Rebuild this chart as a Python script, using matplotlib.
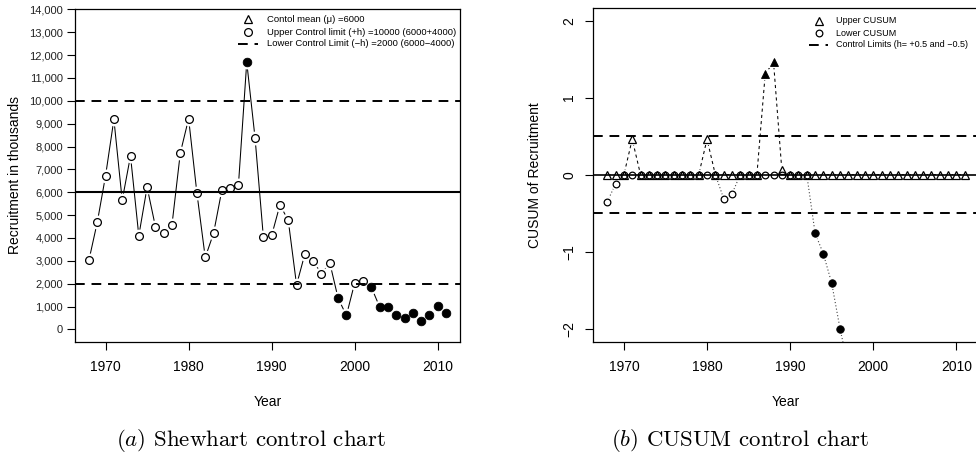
import matplotlib
matplotlib.use('Agg')
import matplotlib.pyplot as plt
from matplotlib.ticker import FixedLocator, FuncFormatter

plt.rcParams['font.family'] = ['Liberation Sans', 'DejaVu Sans']
plt.rcParams['mathtext.fontset'] = 'cm'

# ---------------- data ----------------
years = list(range(1968, 2012))
recruitment = [3040, 4690, 6730, 9190, 5650, 7590, 4100, 6220, 4500, 4240,
               4590, 7720, 9220, 5960, 3150, 4200, 6090, 6170, 6320, 11690,
               8380, 4050, 4110, 5450, 4770, 1950, 3300, 2980, 2440, 2920,
               1370, 610, 2030, 2140, 1850, 990, 990, 620, 520, 700,
               360, 640, 1020, 710]
out_of_control_years = [1987, 1998, 1999, 2002, 2003, 2004, 2005, 2006,
                        2007, 2008, 2009, 2010, 2011]
control_mean = 6000
upper_limit = 10000
lower_limit = 2000

upper_cusum = [0, 0, 0, 0.46, 0, 0, 0, 0, 0, 0, 0, 0, 0.46, 0, 0, 0, 0, 0, 0,
               1.31, 1.46, 0.06,
               0, 0, 0, 0, 0, 0, 0, 0, 0, 0, 0, 0, 0, 0, 0, 0, 0, 0, 0, 0, 0, 0]
lower_years = list(range(1968, 1998))
lower_cusum = [-0.35, -0.12, 0, 0, 0, 0, 0, 0, 0, 0, 0, 0, 0, 0, -0.31, -0.25,
               0, 0, 0, 0, 0, 0, 0, 0, 0, -0.76, -1.03, -1.41, -2.0, -2.5]
h = 0.5

xticks = [1970, 1980, 1990, 2000, 2010]
left_yticks = list(range(0, 14001, 1000))
right_yticks = [-2, -1, 0, 1, 2]

# ---------------- figure ----------------
fig = plt.figure(figsize=(9.76, 4.74), dpi=100)
axL = fig.add_axes([0.07654, 0.27848, 0.39508, 0.70316])
axR = fig.add_axes([0.60758, 0.27911, 0.39549, 0.70401])

for ax in (axL, axR):
    for s in ax.spines.values():
        s.set_linewidth(0.9)
    ax.set_xlim(1966.28, 2012.72)
    ax.xaxis.set_major_locator(FixedLocator(xticks))
    ax.tick_params(axis='x', length=6, width=0.8, labelsize=10, pad=7)
    ax.set_xlabel('Year', fontsize=10, va='center')
    ax.xaxis.set_label_coords(0.5, -0.18)


def type_b(ax, x, y, filled, marker, ms, halo, ls, lw, color):
    ax.plot(x, y, ls=ls, lw=lw, color=color, zorder=1)
    ax.plot(x, y, ls='none', marker=marker, ms=halo, mfc='white',
            mec='white', mew=0, zorder=2)
    xo = [a for a, f in zip(x, filled) if not f]
    yo = [b for b, f in zip(y, filled) if not f]
    xf = [a for a, f in zip(x, filled) if f]
    yf = [b for b, f in zip(y, filled) if f]
    ax.plot(xo, yo, ls='none', marker=marker, ms=ms, mfc='none', mec='black',
            mew=0.9, zorder=4)
    ax.plot(xf, yf, ls='none', marker=marker, ms=ms + 0.6, mfc='black',
            mec='black', mew=0.6, zorder=4)


# ---- (a) Shewhart ----
filledL = [y in out_of_control_years for y in years]
type_b(axL, years, recruitment, filledL, 'o', 5.6, 10, '-', 0.75, 'black')
axL.axhline(control_mean, color='black', lw=1.5, zorder=3)
axL.axhline(upper_limit, color='black', lw=1.4, ls=(0, (5, 3.5)), zorder=3)
axL.axhline(lower_limit, color='black', lw=1.4, ls=(0, (5, 3.5)), zorder=3)
axL.set_ylim(-550, 14030)
axL.yaxis.set_major_locator(FixedLocator(left_yticks))
axL.yaxis.set_major_formatter(FuncFormatter(lambda v, p: f'{int(v):,}'))
axL.tick_params(axis='y', length=6, width=0.8, labelsize=8, pad=2.5,
                labelcolor='#222222')
axL.set_ylabel('Recruitment in thousands', fontsize=10, va='center')
axL.yaxis.set_label_coords(-0.155, 0.5)

legL = [('^', 'Contol mean (\u03bc) =6000', 0.968),
        ('o', 'Upper Control limit (+h) =10000 (6000+4000)', 0.929),
        ('--', 'Lower Control Limit (\u2212h) =2000 (6000\u22124000)', 0.895)]
for mk, lab, yy in legL:
    if mk == '--':
        axL.plot([0.424, 0.476], [yy, yy], transform=axL.transAxes,
                 color='black', lw=1.4, ls=(0, (5, 3.5)), clip_on=False)
    else:
        axL.plot([0.450], [yy], transform=axL.transAxes, marker=mk, ms=5.6,
                 mfc='none', mec='black', mew=0.9, ls='none')
    axL.text(0.499, yy, lab, transform=axL.transAxes, fontsize=6.8,
             va='center', ha='left')

# ---- (b) CUSUM ----
filledU = [v > h for v in upper_cusum]
filledLo = [v < -h for v in lower_cusum]
type_b(axR, years, upper_cusum, filledU, '^', 5.2, 8.5, (0, (3, 3)), 0.75,
       'black')
type_b(axR, lower_years, lower_cusum, filledLo, 'o', 4.8, 8, (0, (1, 2)),
       0.8, '#444444')
axR.axhline(0, color='black', lw=1.2, zorder=3)
axR.axhline(h, color='black', lw=1.4, ls=(0, (5, 3.5)), zorder=3)
axR.axhline(-h, color='black', lw=1.4, ls=(0, (5, 3.5)), zorder=3)
axR.set_ylim(-2.17, 2.165)
axR.yaxis.set_major_locator(FixedLocator(right_yticks))
axR.yaxis.set_major_formatter(FuncFormatter(lambda v, p: f'{int(v)}'.replace('-', '\u2212')))
axR.tick_params(axis='y', length=6, width=0.8, labelsize=10, pad=6)
for t in axR.get_yticklabels():
    t.set_rotation(90)
    t.set_va('center')
axR.set_ylabel('CUSUM of Recruitment', fontsize=10, va='center')
axR.yaxis.set_label_coords(-0.150, 0.5)

legR = [('^', 'Upper CUSUM', 0.962, 5.4),
        ('o', 'Lower CUSUM', 0.925, 4.8),
        ('--', 'Control Limits (h= +0.5 and \u22120.5)', 0.890, 0)]
for mk, lab, yy, msz in legR:
    if mk == '--':
        axR.plot([0.560, 0.609], [yy, yy], transform=axR.transAxes,
                 color='black', lw=1.4, ls=(0, (5, 3.5)), clip_on=False)
    else:
        axR.plot([0.586], [yy], transform=axR.transAxes, marker=mk, ms=msz,
                 mfc='none', mec='black', mew=0.9, ls='none')
    axR.text(0.630, yy, lab, transform=axR.transAxes, fontsize=6.5,
             va='center', ha='left')

# ---- captions ----
fig.text(0.2575, 1 - 440 / 474, r'$(a)$ Shewhart control chart', fontsize=16.5,
         family='cmr10', ha='center', va='center')
fig.text(0.758, 1 - 440 / 474, r'$(b)$ CUSUM control chart', fontsize=16.5,
         family='cmr10', ha='center', va='center')

fig.savefig('out.png', dpi=100)
